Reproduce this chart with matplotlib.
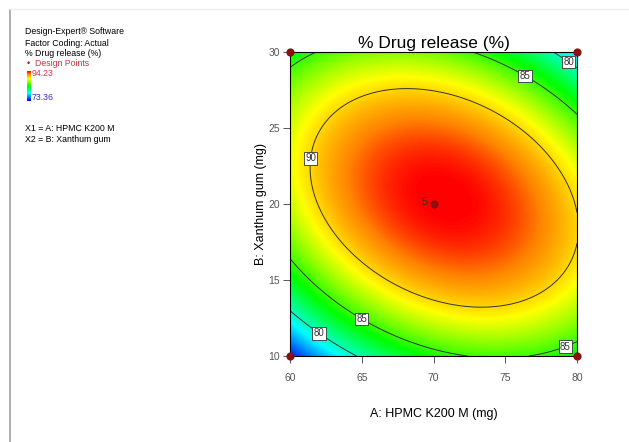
import matplotlib.pyplot as plt
import numpy as np
from matplotlib.colors import LinearSegmentedColormap
from matplotlib.lines import Line2D

plt.rcParams['font.family'] = ['Liberation Sans', 'DejaVu Sans']

# quadratic model in coded units: b0, bA, bB, bAB, bA2, bB2
coefs = [94.29, 0.964, 1.024, -3.893, -5.388, -9.114]
a_range = [60, 80]
b_range = [10, 30]
levels = [80, 85, 90]
resp_min, resp_max = 73.36, 94.23

# design points (A, B)
design_a = [60, 80, 60, 80, 70]
design_b = [10, 10, 30, 30, 20]

x_ticks = [60, 65, 70, 75, 80]
y_ticks = [10, 15, 20, 25, 30]


def model(a, b):
    x1 = (a - 70) / 10.0
    x2 = (b - 20) / 10.0
    b0, b1, b2, b12, b11, b22 = coefs
    return b0 + b1*x1 + b2*x2 + b12*x1*x2 + b11*x1**2 + b22*x2**2


cmap = LinearSegmentedColormap.from_list(
    'de', [(0, '#0000ff'), (0.25, '#00ffff'), (0.5, '#00ff00'),
           (0.75, '#ffff00'), (0.9, '#ff8400'), (1, '#ff0000')])

fig = plt.figure(figsize=(6.29, 4.42), dpi=100)

# outer frame lines
fig.add_artist(Line2D([10/629, 10/629], [0, 1 - 10/442], color='#a0a0a0', lw=1.2))
fig.add_artist(Line2D([10/629, 1], [1 - 9/442, 1 - 9/442], color='#eeeeee', lw=1))

ax = fig.add_axes([290/629, 86/442, 287/629, 304/442])
A, B = np.meshgrid(np.linspace(60, 80, 300), np.linspace(10, 30, 300))
Z = model(A, B)
ax.imshow(Z, extent=[60, 80, 10, 30], origin='lower', cmap=cmap,
          vmin=resp_min, vmax=resp_max, aspect='auto', interpolation='bilinear')
cs = ax.contour(A, B, Z, levels=levels, colors='#333333', linewidths=0.7)
label_pos = [(61.5, 23), (76.5, 28.6), (79.6, 29.6), (65.1, 12.6), (62.1, 11.6), (79.2, 10.6)]
lbls = ax.clabel(cs, fmt='%d', fontsize=7, manual=label_pos, inline=False)
for t in lbls:
    t.set_rotation(0)
    t.set_color('#333333')
    t.set_bbox(dict(facecolor='white', edgecolor='#333333', pad=1, lw=0.6))

ax.scatter(design_a, design_b, s=24, color='#8b1010', zorder=5, clip_on=False)
ax.text(69.6, 20.15, '5', fontsize=8, color='#333333', ha='right', va='center')

ax.set_xlim(a_range)
ax.set_ylim(b_range)
ax.set_xticks(x_ticks)
ax.set_yticks(y_ticks)
ax.tick_params(labelsize=7.5, colors='#555555', length=5, width=0.7)
ax.tick_params(axis='x', pad=7)
ax.tick_params(axis='y', pad=2)
for s in ax.spines.values():
    s.set_linewidth(0.8)
ax.set_title('% Drug release (%)', fontsize=12.5, pad=3)
ax.set_xlabel('A: HPMC K200 M (mg)', fontsize=9, labelpad=18)
ax.set_ylabel('B: Xanthum gum (mg)', fontsize=9, labelpad=1.5)

# left info block
txt = dict(fontsize=6.3, transform=fig.transFigure, va='center')
fig.text(25/629, 1 - 32/442, 'Design-Expert® Software', **txt)
fig.text(25/629, 1 - 43/442, 'Factor Coding: Actual', **txt)
fig.text(25/629, 1 - 54/442, '% Drug release (%)', **txt)
fig.text(27/629, 1 - 64/442, '\u2022', color='#8b1010', **txt)
fig.text(35/629, 1 - 64/442, 'Design Points', color='#d03040', **txt)
fig.text(32/629, 1 - 74/442, '94.23', color='#e03040', **txt)
fig.text(32/629, 1 - 97/442, '73.36', color='#3030c0', **txt)
fig.text(25/629, 1 - 128/442, 'X1 = A: HPMC K200 M', **txt)
fig.text(25/629, 1 - 139/442, 'X2 = B: Xanthum gum', **txt)

cax = fig.add_axes([27/629, 1 - 101/442, 4/629, 30/442])
cax.imshow(np.linspace(0, 1, 100).reshape(-1, 1), cmap=cmap, origin='lower', aspect='auto')
cax.axis('off')

fig.savefig('out.png', dpi=100)
